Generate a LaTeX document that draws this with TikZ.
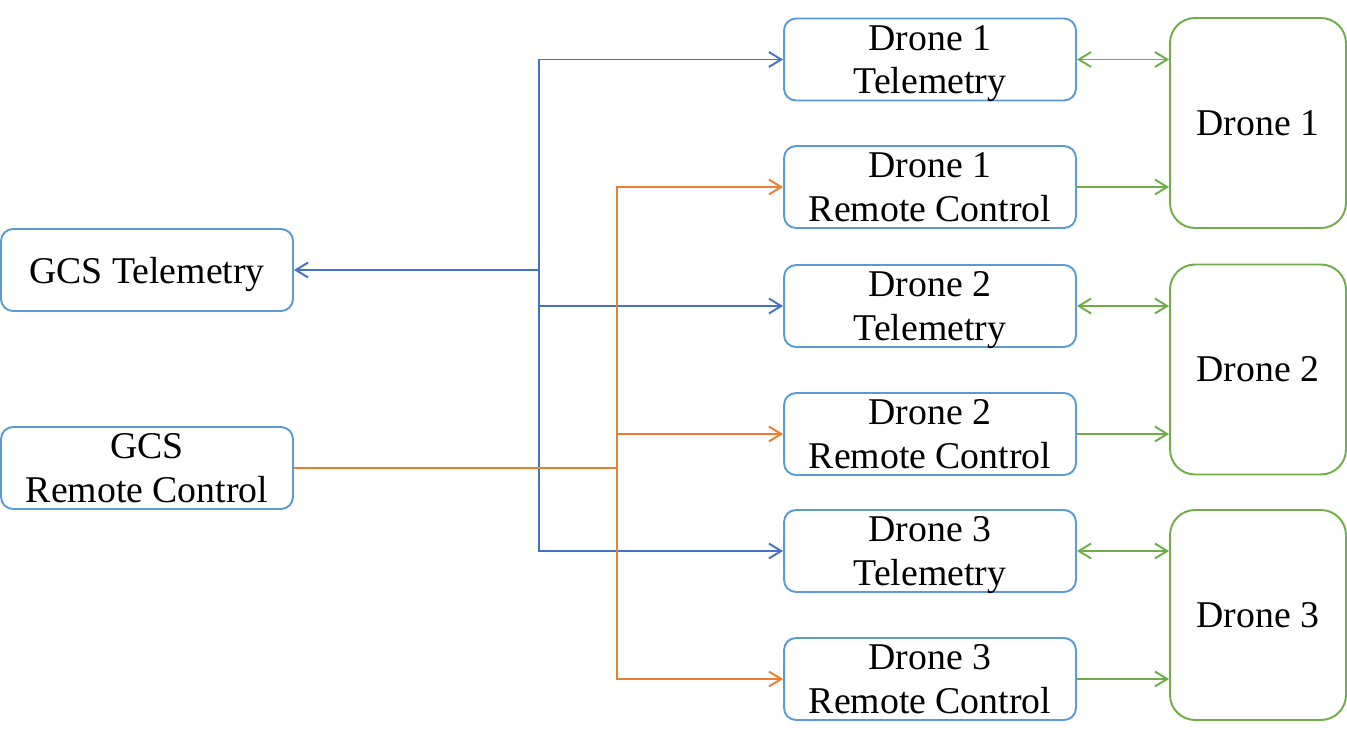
\documentclass[tikz,border=0pt]{standalone}
\usepackage{fontspec}
\setmainfont{Liberation Serif}
\usetikzlibrary{arrows.meta}
\definecolor{boxblue}{RGB}{91,155,213}
\definecolor{lineblue}{RGB}{68,114,196}
\definecolor{lineorange}{RGB}{237,125,49}
\definecolor{linegreen}{RGB}{112,173,71}

\begin{document}
\begin{tikzpicture}[x=0.02cm, y=-0.02cm,
  >={Straight Barb[length=7pt,width=8.5pt]},
  box/.style={draw=boxblue, line width=1.1pt, rounded corners=0.24cm, align=center,
    minimum width=5.84cm, minimum height=1.64cm, inner sep=0pt, text depth=0pt,
    font=\fontsize{21.5}{25}\selectfont},
  drone/.style={draw=linegreen, line width=1.1pt, rounded corners=0.5cm,
    minimum width=3.52cm, minimum height=4.2cm, inner sep=0pt,
    font=\fontsize{21.5}{25}\selectfont},
  tele/.style={draw=lineblue, line width=1.1pt},
  rc/.style={draw=lineorange, line width=1.1pt},
  link/.style={draw=linegreen, line width=1.1pt}]
  \useasboundingbox (0,0) rectangle (1347,747);
  % ground station
  \node[box] (gcst) at (147,270) {GCS Telemetry};
  \node[box] (gcsr) at (147,468) {GCS\\Remote Control};
  % drone side links
  \node[box] (d1t) at (930,59.5) {Drone 1\\Telemetry};
  \node[box] (d1r) at (930,187) {Drone 1\\Remote Control};
  \node[box] (d2t) at (930,306) {Drone 2\\Telemetry};
  \node[box] (d2r) at (930,434) {Drone 2\\Remote Control};
  \node[box] (d3t) at (930,551) {Drone 3\\Telemetry};
  \node[box] (d3r) at (930,679) {Drone 3\\Remote Control};
  % drones
  \node[drone] (dr1) at (1258,123) {Drone 1};
  \node[drone] (dr2) at (1258,369.5) {Drone 2};
  \node[drone] (dr3) at (1258,615) {Drone 3};
  % buses
  \coordinate (tbus) at (539,270);
  \coordinate (rbus) at (617,468);
  \draw[tele,->] (tbus) -- (gcst);
  \draw[tele,->] (tbus) |- (d1t);
  \draw[tele,->] (tbus) |- (d2t);
  \draw[tele,->] (tbus) |- (d3t);
  \draw[rc] (gcsr) -- (rbus);
  \draw[rc,->] (rbus) |- (d1r);
  \draw[rc,->] (rbus) |- (d2r);
  \draw[rc,->] (rbus) |- (d3r);
  \draw[link,<->] (d1t.east) -- (d1t.east -| dr1.west);
  \draw[link,->] (d1r.east) -- (d1r.east -| dr1.west);
  \draw[link,<->] (d2t.east) -- (d2t.east -| dr2.west);
  \draw[link,->] (d2r.east) -- (d2r.east -| dr2.west);
  \draw[link,<->] (d3t.east) -- (d3t.east -| dr3.west);
  \draw[link,->] (d3r.east) -- (d3r.east -| dr3.west);
\end{tikzpicture}
\end{document}
